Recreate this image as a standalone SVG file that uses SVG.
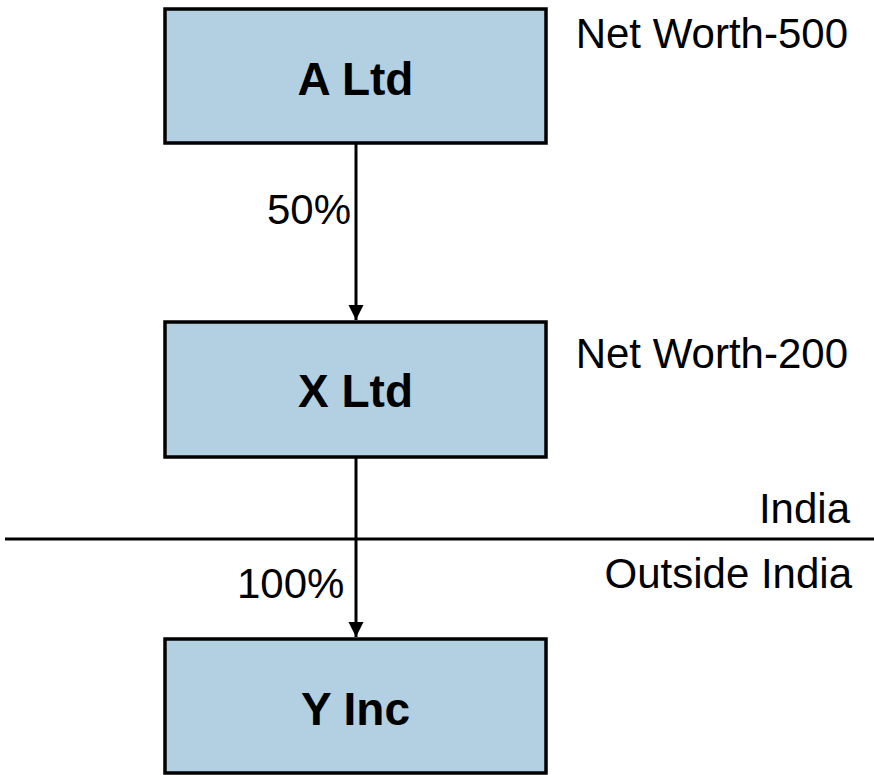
<svg xmlns="http://www.w3.org/2000/svg" width="874" height="775" viewBox="0 0 874 775">
  <style>
    .box { fill: #b2d0e2; stroke: #000; stroke-width: 3.5; }
    .name { font-family: "Liberation Sans", Arial, sans-serif; font-weight: bold; font-size: 46px; text-anchor: middle; fill: #000; }
    .note { font-family: "Liberation Sans", Arial, sans-serif; font-size: 42px; fill: #000; }
    .wire { stroke: #000; stroke-width: 3; fill: none; }
  </style>
  <defs>
    <marker id="arrow" markerUnits="userSpaceOnUse" markerWidth="16" markerHeight="16" refX="15" refY="7.5" orient="auto">
      <path d="M0,0 L15,7.5 L0,15 Z" fill="#000"/>
    </marker>
  </defs>
  <rect width="874" height="775" fill="#fff"/>

  <g id="connectors">
    <line class="wire" x1="356" y1="143" x2="356" y2="320" marker-end="url(#arrow)"/>
    <line class="wire" x1="356" y1="457" x2="356" y2="637" marker-end="url(#arrow)"/>
    <line class="wire" x1="5" y1="539" x2="874" y2="539"/>
    <text class="note" x="267" y="224">50%</text>
    <text class="note" x="237" y="598">100%</text>
  </g>

  <g id="a-ltd">
    <rect class="box" x="165" y="9" width="381" height="134"/>
    <text class="name" x="355.5" y="95">A Ltd</text>
    <text class="note" x="848" y="48" text-anchor="end">Net Worth-500</text>
  </g>

  <g id="x-ltd">
    <rect class="box" x="165" y="322" width="381" height="135"/>
    <text class="name" x="355.5" y="407">X Ltd</text>
    <text class="note" x="848" y="368" text-anchor="end">Net Worth-200</text>
  </g>

  <g id="border-labels">
    <text class="note" x="850" y="523" text-anchor="end">India</text>
    <text class="note" x="852" y="588" text-anchor="end">Outside India</text>
  </g>

  <g id="y-inc">
    <rect class="box" x="165" y="639" width="381" height="134"/>
    <text class="name" x="355.5" y="725">Y Inc</text>
  </g>
</svg>
